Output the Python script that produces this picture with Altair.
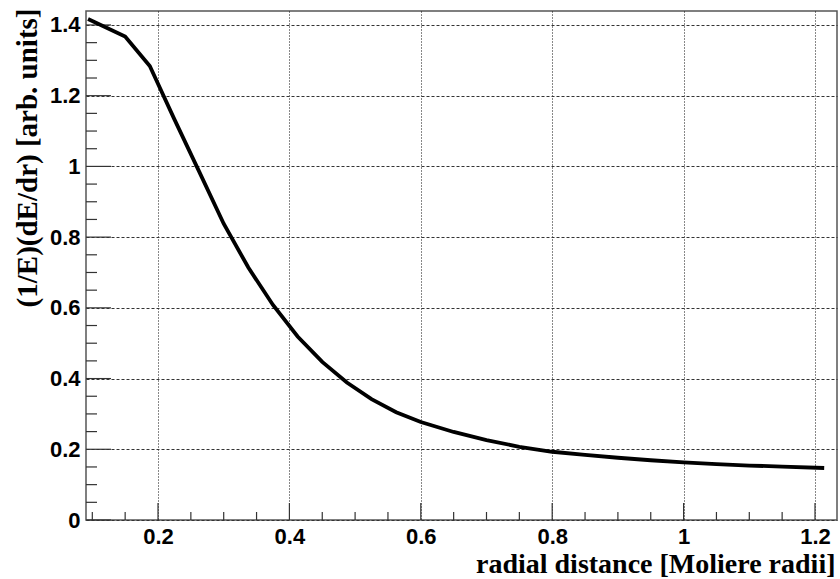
import altair as alt
import pandas as pd

# --- data ---
radial = [0.0935, 0.15, 0.1875, 0.225, 0.2625, 0.3, 0.3375, 0.375, 0.4125, 0.45,
          0.4875, 0.525, 0.5625, 0.6, 0.65, 0.7, 0.75, 0.8, 0.85, 0.9, 0.95,
          1.0, 1.05, 1.1, 1.15, 1.214]
dEdr = [1.417, 1.367, 1.284, 1.133, 0.986, 0.838, 0.714, 0.608, 0.519, 0.447,
        0.389, 0.342, 0.305, 0.277, 0.249, 0.226, 0.207, 0.193, 0.184, 0.176, 0.169,
        0.163, 0.158, 0.154, 0.151, 0.147]

x_major = [0.2, 0.4, 0.6, 0.8, 1.0, 1.2]
x_minor = [0.1, 0.15, 0.25, 0.3, 0.35, 0.45, 0.5, 0.55, 0.65, 0.7, 0.75,
           0.85, 0.9, 0.95, 1.05, 1.1, 1.15]
y_major = [0, 0.2, 0.4, 0.6, 0.8, 1.0, 1.2, 1.4]
y_minor = [0.05, 0.1, 0.15, 0.25, 0.3, 0.35, 0.45, 0.5, 0.55, 0.65, 0.7, 0.75,
           0.85, 0.9, 0.95, 1.05, 1.1, 1.15, 1.25, 1.3, 1.35]

x_domain = [0.0904, 1.2335]
y_domain = [0, 1.4395]

W, H = 751, 509

df = pd.DataFrame({"r": radial, "e": dEdr})
xs = alt.Scale(domain=x_domain, nice=False, zero=False)
ys = alt.Scale(domain=y_domain, nice=False, zero=False)

x_axis = alt.Axis(
    values=x_major, format="~g", grid=True, gridDash=[1, 2], gridColor="#111",
    gridWidth=1, ticks=False, domain=False, labelFlush=False, labelOverlap=False,
    labelFont="Liberation Sans", labelFontWeight="bold", labelFontSize=22,
    labelColor="black", labelPadding=6,
    title="radial distance [Moliere radii]", titleFont="Liberation Serif",
    titleFontWeight="bold", titleFontSize=28, titleColor="black",
    titleAlign="right", titleAnchor="end", titleBaseline="alphabetic",
    titleX=W - 2, titleY=52)
y_axis = alt.Axis(
    values=y_major, format="~g", grid=True, gridDash=[3, 2], gridColor="#333",
    gridWidth=1, ticks=False, domain=False, labelFlush=False, labelOverlap=False,
    labelFont="Liberation Sans", labelFontWeight="bold", labelFontSize=22,
    labelColor="black", labelPadding=6,
    title="(1/E)(dE/dr) [arb. units]", titleFont="Liberation Serif",
    titleFontWeight="bold", titleFontSize=29, titleColor="black",
    titleAngle=270, titleAlign="right", titleBaseline="alphabetic",
    titleX=-50, titleY=-3)

line = alt.Chart(df).mark_line(color="black", strokeWidth=3.8).encode(
    x=alt.X("r:Q", scale=xs, axis=x_axis),
    y=alt.Y("e:Q", scale=ys, axis=y_axis),
)

def xticks(vals, length):
    return alt.Chart(pd.DataFrame({"v": vals})).mark_rule(color="#333", strokeWidth=1.2).encode(
        x=alt.X("v:Q", scale=xs, axis=x_axis),
        y=alt.value(H), y2=alt.value(H - length))

def yticks(vals, length):
    return alt.Chart(pd.DataFrame({"v": vals})).mark_rule(color="#333", strokeWidth=1.2).encode(
        y=alt.Y("v:Q", scale=ys, axis=y_axis),
        x=alt.value(0), x2=alt.value(length))

chart = alt.layer(
    xticks(x_major, 17), xticks(x_minor, 8),
    yticks(y_major, 25), yticks(y_minor, 11),
    line,
).properties(
    width=W, height=H,
    autosize=alt.AutoSizeParams(type="none"),
    padding={"left": 86, "top": 11, "right": 3, "bottom": 59},
    background="white",
).configure_view(stroke="#555", strokeWidth=1.5)

chart.save("out.html", embed_options={"renderer": "svg", "actions": False})
